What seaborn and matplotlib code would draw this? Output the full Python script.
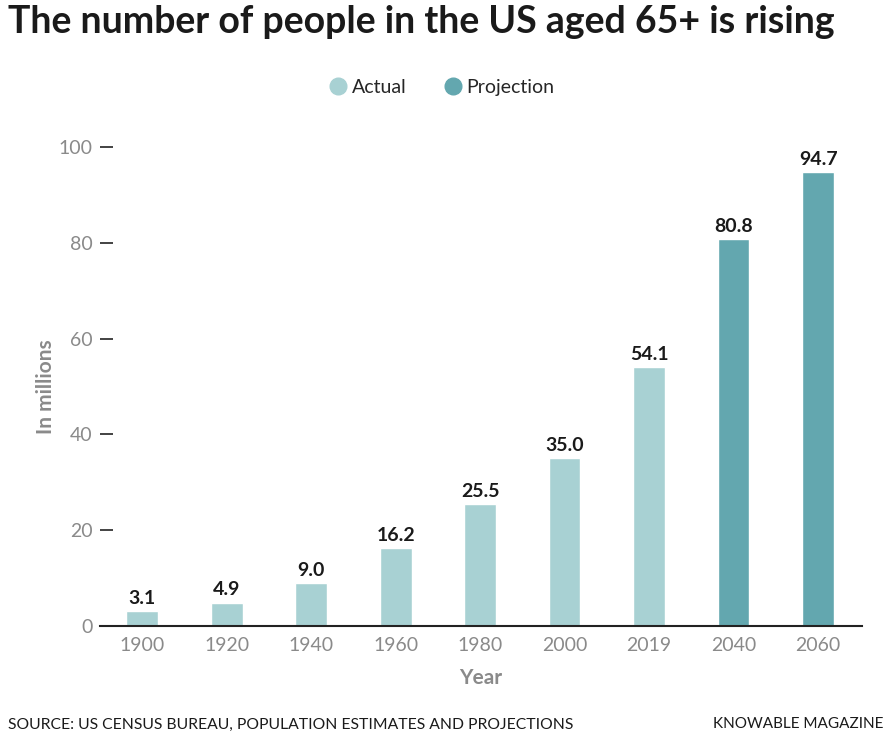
import pandas as pd
import seaborn as sns
import matplotlib
import matplotlib.pyplot as plt
from matplotlib.lines import Line2D

matplotlib.use("Agg")

years = ["1900", "1920", "1940", "1960", "1980", "2000", "2019", "2040", "2060"]
values = [3.1, 4.9, 9.0, 16.2, 25.5, 35.0, 54.1, 80.8, 94.7]
kinds = ["Actual"] * 7 + ["Projection"] * 2
y_ticks = [0, 20, 40, 60, 80, 100]

colors = {"Actual": "#a8d1d3", "Projection": "#63a7af"}
GRAY = "#8a8a8a"

df = pd.DataFrame({"year": years, "value": values, "kind": kinds})

sns.set_style("white")
plt.rcParams["font.family"] = ["Lato", "DejaVu Sans"]

fig = plt.figure(figsize=(8.9, 7.37), dpi=100)
ax = fig.add_axes([100 / 890, 0.1506, 762 / 890, 0.6499])

sns.barplot(data=df, x="year", y="value", hue="kind", palette=colors, saturation=1,
            dodge=False, width=0.375, legend=False, ax=ax)

for c in ax.containers:
  labels = [f"{v:.1f}" for v in c.datavalues]
  ax.bar_label(c, labels=labels, padding=3, fontsize=14, fontweight="bold",
               color="#1a1a1a", clip_on=False)

ax.set_xlim(-0.5, 8.52)
ax.set_ylim(0, 100)
ax.set_yticks(y_ticks)
ax.tick_params(axis="y", direction="in", length=9, width=1.2, color="#222222", labelsize=14,
               labelcolor=GRAY, pad=5.5, left=True)
ax.tick_params(axis="x", length=0, labelsize=14, labelcolor=GRAY, pad=8)

for s in ["top", "right", "left"]:
  ax.spines[s].set_visible(False)
ax.spines["bottom"].set_color("#222222")
ax.spines["bottom"].set_linewidth(1.5)

ax.set_xlabel("Year", fontsize=15, fontweight="bold", color=GRAY, labelpad=10)
ax.set_ylabel("In millions", fontsize=15, fontweight="bold", color=GRAY, labelpad=2)

fig.text(0.009, 0.97, "The number of people in the US aged 65+ is rising",
         fontsize=27, fontweight="bold", color="#1a1a1a", va="center", ha="left")

handles = [Line2D([], [], marker="o", linestyle="", markersize=12,
                  markerfacecolor=colors[k], markeredgecolor=colors[k]) for k in ["Actual", "Projection"]]
fig.legend(handles, ["Actual", "Projection"], loc="center", bbox_to_anchor=(0.497, 0.881),
           ncol=2, frameon=False, fontsize=14, handlelength=0.8, handletextpad=0.3,
           columnspacing=2.0)

fig.text(0.009, 0.017, "SOURCE: US CENSUS BUREAU, POPULATION ESTIMATES AND PROJECTIONS",
         fontsize=11.3, color="#1a1a1a", ha="left", va="center")
fig.text(0.993, 0.017, "KNOWABLE MAGAZINE", fontsize=11.0, color="#1a1a1a", ha="right", va="center")

fig.savefig("out.png", dpi=100)
